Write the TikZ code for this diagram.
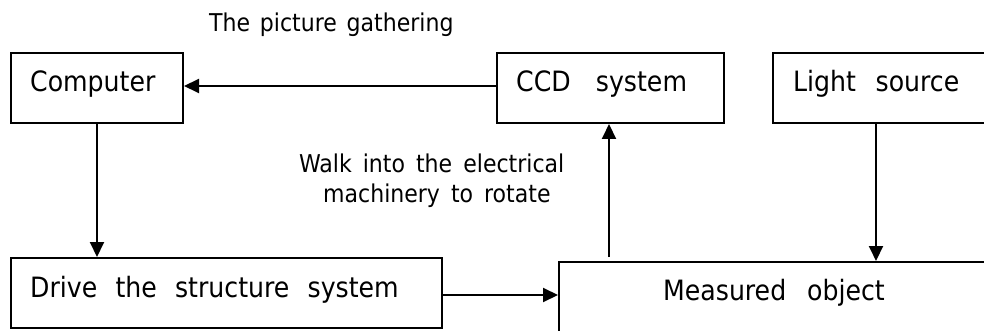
\documentclass[tikz,border=0pt]{standalone}
\usepackage{fontspec}
\setmainfont{DejaVu Sans Condensed}
\usetikzlibrary{arrows.meta}
\begin{document}
\begin{tikzpicture}[x=1pt,y=-1pt,
  box/.style={draw,line width=2pt,anchor=north west,inner sep=0pt},
  boxtext/.style={anchor=base west,inner sep=0pt,font=\fontsize{28}{34}\selectfont},
  note/.style={anchor=base west,inner sep=0pt,font=\fontsize{24.5}{30}\selectfont},
  arr/.style={-{Triangle[length=15pt,width=14pt]},line width=2pt}]
\useasboundingbox (0,0) rectangle (984,331);
\clip (0,0) rectangle (984,331);

% boxes
\node[box,minimum width=172pt,minimum height=70pt] (comp) at (10,52) {};
\node[box,minimum width=227pt,minimum height=70pt] (ccd) at (496,52) {};
\node[box,minimum width=260pt,minimum height=70pt] (light) at (772,52) {};
\node[box,minimum width=431pt,minimum height=70pt] (drive) at (10,257) {};
\node[box,minimum width=500pt,minimum height=120pt] (meas) at (558,261) {};

% box texts
\node[boxtext] (compt) at (30,92) {Computer};
\node[boxtext] (ccdt) at (516,92) {CCD\hspace{0.9em}system};
\node[boxtext] (lightt) at (793,92) {Light\hspace{0.7em}source};
\node[boxtext] (drivet) at (30,297) {Drive\hspace{0.65em}the\hspace{0.65em}structure\hspace{0.65em}system};
\node[boxtext] (meast) at (663,300) {Measured\hspace{0.75em}object};

% notes
\node[note] (gather) at (209,32) {The\hspace{0.4em}picture\hspace{0.4em}gathering};
\node[note] (walk1) at (299,173) {Walk\hspace{0.45em}into\hspace{0.45em}the\hspace{0.45em}electrical};
\node[note] (walk2) at (323,202) {machinery\hspace{0.45em}to\hspace{0.45em}rotate};

% connectors
\draw[arr] ([yshift=2pt]ccd.west) -- ([yshift=2pt]comp.east);
\draw[arr] (comp.south) -- (comp.south |- drive.north);
\coordinate (upfoot) at ([xshift=-1.5pt]ccd.south |- meas.north);
\draw[arr,shorten <=4pt] (upfoot) -- (upfoot |- ccd.south);
\coordinate (lightout) at ([xshift=104pt]light.south west);
\draw[arr] (lightout) -- (lightout |- meas.north);
\draw[arr] ([yshift=-2pt]drive.east) -- ([yshift=-2pt]drive.east -| meas.west);
\end{tikzpicture}
\end{document}
